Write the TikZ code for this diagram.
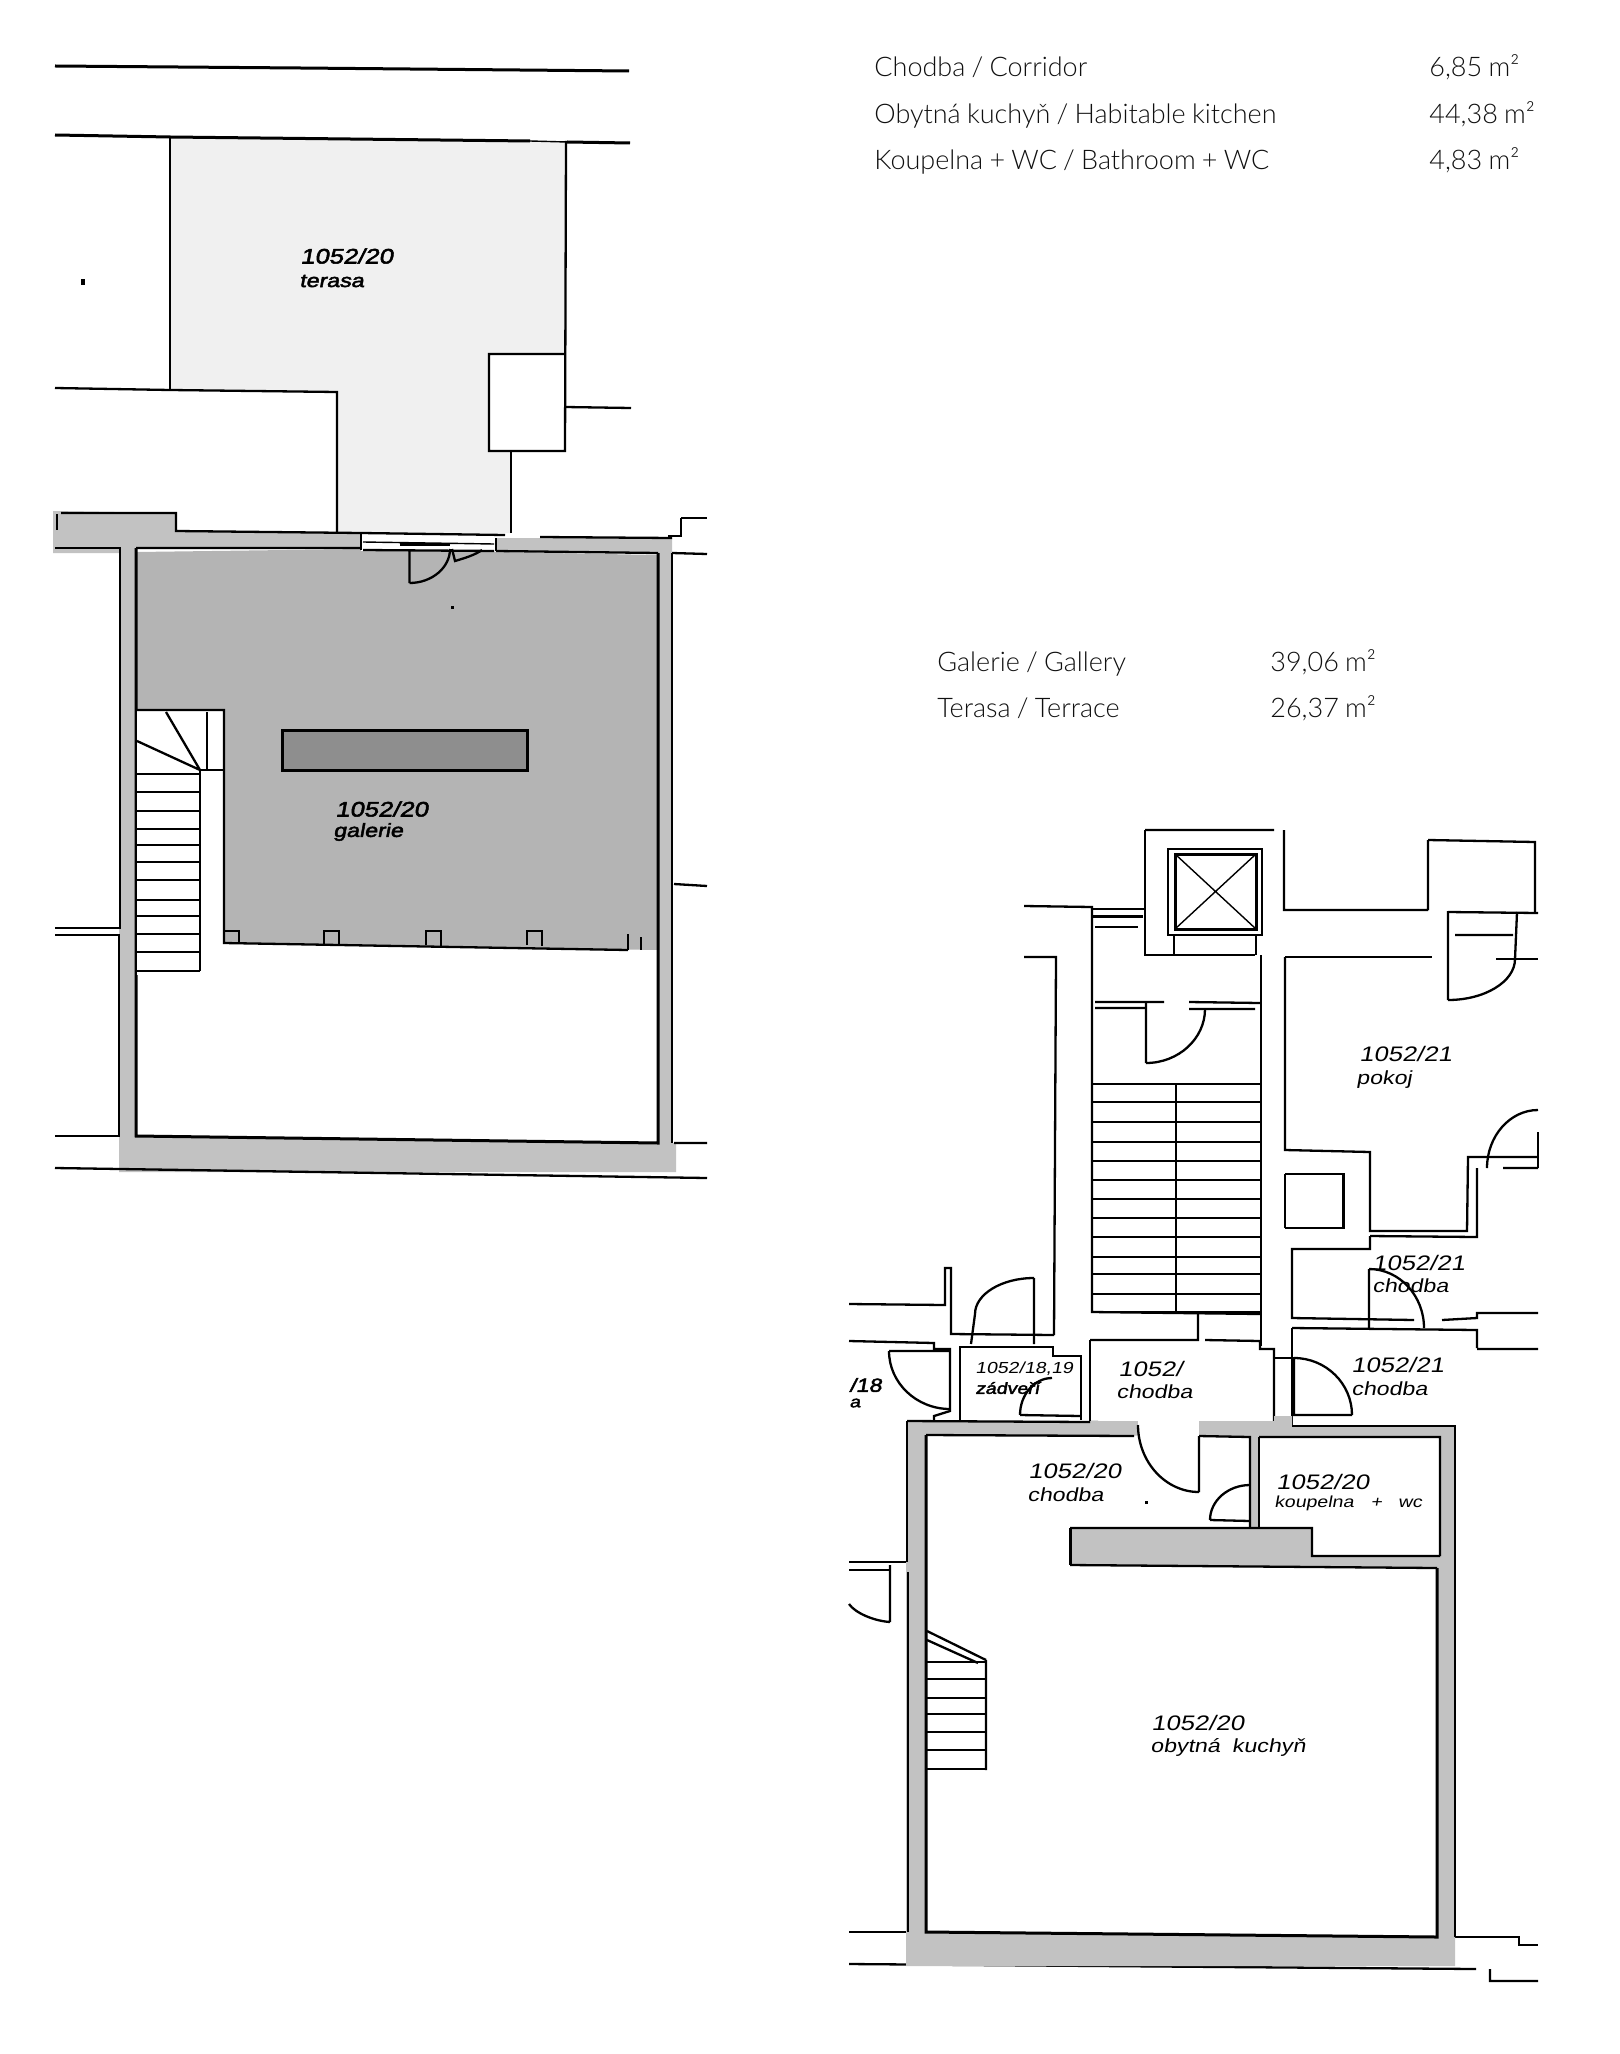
\documentclass[tikz,border=0pt]{standalone}
\usepackage{fontspec}
\usepackage{xcolor}
\usepackage{tikz}
\usetikzlibrary{calc}
\setmainfont[WordSpace=.85]{Lato Light}
\newfontfamily\planfont[FakeStretch=1.22,FakeSlant=0.18]{Liberation Sans}
\newfontfamily\planbold[FakeStretch=1.22,FakeSlant=0.18,FakeBold=2.5]{Liberation Sans}
\definecolor{wallgrey}{HTML}{C2C2C2}
\definecolor{galgrey}{HTML}{B4B4B4}
\definecolor{bargrey}{HTML}{8E8E8E}
\definecolor{terrgrey}{HTML}{F0F0F0}
\definecolor{tabletext}{HTML}{101010}
\newcommand\swing[3]{(#1) .. controls ($(#1)!.55!(#2)$) and ($(#3)!.55!(#2)$) .. (#3)}
\tikzstyle{line}=[line width=1.15pt,black]
\tikzstyle{hair}=[line width=.7pt,black]
\tikzstyle{heavy}=[line width=1.5pt,black]
\tikzstyle{area}=[inner sep=0pt,anchor=base west,text=tabletext,font=\fontsize{13.5}{15}\selectfont]
\tikzstyle{labnum}=[inner sep=0pt,anchor=west,font=\fontsize{10.5}{12}\planfont]
\tikzstyle{lab}=[inner sep=0pt,anchor=west,font=\fontsize{9.5}{11}\planfont]
\tikzstyle{labboldnum}=[labnum,font=\fontsize{10.5}{12}\planbold]
\tikzstyle{labbold}=[lab,font=\fontsize{9.5}{11}\planbold]
\tikzstyle{labsmall}=[inner sep=0pt,anchor=west,font=\fontsize{8}{10}\planfont]
\begin{document}
\begin{tikzpicture}[x=.5pt,y=-.5pt]
	\useasboundingbox (0,0) rectangle (1620,2054);
	% areas
	\node[area] (corridor) at (874,77) {Chodba / Corridor};
	\node[area] (kitchen) at (874,124) {Obytná kuchyň / Habitable kitchen};
	\node[area] (bathroom) at (874,170) {Koupelna + WC / Bathroom + WC};
	\node[area] (corridorm) at (1429,77) {6,85 m²};
	\node[area] (kitchenm) at (1429,124) {44,38 m²};
	\node[area] (bathroomm) at (1429,170) {4,83 m²};
	\node[area] (gallery) at (937,671) {Galerie / Gallery};
	\node[area] (terrace) at (937,717) {Terasa / Terrace};
	\node[area] (gallerym) at (1270,671) {39,06 m²};
	\node[area] (terracem) at (1270,717) {26,37 m²};
	% upper floor, fills
	\fill[terrgrey] (170,137) -- (566,141) -- (566,354) -- (489,354) -- (489,451) -- (511,451) -- (511,533) -- (337,533) -- (337,392) -- (170,390) -- cycle;
	\fill[wallgrey] (53,511) -- (176,513) -- (176,531) -- (361,533) -- (361,548) -- (136,548) -- (136,1136) -- (658,1143) -- (658,553) -- (496,551) -- (496,538) -- (672,538) -- (672,1143) -- (676,1143) -- (676,1172) -- (119,1172) -- (119,553) -- (53,553) -- cycle;
	\fill[galgrey] (137,552) -- (361,549) -- (496,552) -- (658,555) -- (658,950) -- (224,943) -- (224,710) -- (137,710) -- cycle;
	\fill[white] (361,534) rectangle (496,551);
	\fill[bargrey] (282,730) rectangle (527,770);
	\draw[heavy] (282,730) rectangle (527,770);
	% upper floor, terrace
	\draw[heavy] (55,66) -- (300,68) -- (629,71);
	\draw[heavy] (55,135) -- (170,137) -- (530,141) (567,142) -- (630,143);
	\draw[hair] (530,141) -- (567,142);
	\draw[line] (170,137) -- (170,390);
	\draw[line] (566,141) -- (565,451) -- (489,451) -- (489,354) -- (565,354);
	\draw[line] (565,407) -- (631,408);
	\draw[line] (55,388) -- (170,390) -- (337,392) -- (337,533);
	\draw[line] (511,451) -- (511,533);
	\fill[black] (81,279) rectangle (85,285);
	\node[labboldnum] (terasanum) at (300,256) {1052/20};
	\node[labbold] (terasaname) at (299,281) {terasa};
	% upper floor, walls
	\draw[line] (55,548) -- (120,548) -- (120,928) -- (55,928);
	\draw[line] (55,935) -- (119,935) -- (119,1136) -- (55,1136);
	\draw[heavy] (136,548) -- (136,1136) -- (658,1143) -- (658,553);
	\draw[line] (672,553) -- (672,1143);
	\draw[line] (61,513) -- (176,513) -- (176,531) -- (361,533) -- (505,535) (540,537) -- (672,538);
	\draw[line] (57,514) -- (57,530);
	\draw[line] (136,548) -- (361,548) (496,551) -- (658,553);
	\draw[line] (361,533) -- (361,550) (496,538) -- (496,551);
	\draw[line] (672,553) -- (707,554) (674,884) -- (707,886) (674,1143) -- (707,1143);
	\draw[line] (681,518) -- (707,518) (681,518) -- (681,536) -- (668,536);
	\draw[line] (55,1168) -- (707,1178);
	% upper floor, entrance
	\draw[hair] (363,542) -- (494,544);
	\draw[heavy] (400,544) -- (450,544);
	\draw[line] (363,550) -- (494,551);
	\draw[line] (409.5,549) -- (409.5,583) \swing{409.5,583}{450,583}{450,549};
	\draw[line] (452,549) -- (455,561) .. controls (465,558) and (475,555) .. (482,550);
	\fill[black] (451,606) rectangle (454,609);
	% upper floor, stairs
	\fill[white] (137,710) rectangle (224,943);
	\fill[white] (137,943) rectangle (200,975);
	\draw[line] (137,710) -- (224,710) -- (224,943) -- (628,950);
	\draw[line] (207,712) -- (207,770) (200,770) -- (224,770);
	\draw[line] (166,712) -- (200,770) (137,741) -- (200,770);
	\draw[line] (200,770) -- (200,971);
	\foreach \treadup in {774,792,811,829,845,862,880,900,916,934,952,971}
		\draw[line] (137,\treadup) -- (200,\treadup);
	\draw[line] (224,944) -- (224,931) -- (239,931) -- (239,944);
	\foreach \pierx in {324,426,527}
		\draw[line] (\pierx,945) -- (\pierx,931) -- ([xshift=7.5pt]\pierx,931) -- ([xshift=7.5pt]\pierx,946);
	\draw[line] (628,934) -- (628,950);
	\draw[hair] (641,937) -- (641,950);
	\node[labboldnum] (galerienum) at (335,809) {1052/20};
	\node[labbold] (galeriename) at (333,832) {galerie};
	% lower floor, lift
	\draw[line] (1024,906) -- (1092,907) -- (1092,1312) -- (1261,1314);
	\draw[line] (1145,830) -- (1274,830) (1284,830) -- (1284,910) -- (1428,910) (1428,840) -- (1535,842) -- (1535,912) (1428,840) -- (1428,910);
	\draw[line] (1145,830) -- (1145,955) -- (1255,955);
	\draw[line] (1168,849) rectangle (1262,935);
	\draw[heavy] (1175,854) rectangle (1256,929);
	\draw[hair] (1175,854) -- (1256,929) (1175,929) -- (1256,854);
	\draw[line] (1174,935) -- (1174,955) (1256,935) -- (1256,955);
	\draw[line] (1092,909) -- (1145,909) (1095,927) -- (1138,927);
	\draw[heavy] (1092,916) -- (1143,916);
	% lower floor, staircase
	\draw[line] (1024,957) -- (1056,957) -- (1054,1335);
	\draw[line] (1261,955) -- (1261,1346);
	\draw[line] (1285,957) -- (1285,1150) -- (1370,1152) -- (1370,1231) -- (1467,1231) -- (1468,1157) -- (1538,1157);
	\draw[line] (1285,957) -- (1432,957) (1496,959) -- (1538,959);
	\draw[line] (1095,1002) -- (1164,1002) (1095,1008) -- (1146,1008) (1189,1002) -- (1260,1003) (1189,1009) -- (1255,1009);
	\draw[line] (1146,1002) -- (1146,1063) \swing{1146,1063}{1205,1063}{1205,1009};
	\draw[line] (1176,1084) -- (1176,1312);
	\foreach \treaddown in {1084,1102,1122,1142,1161,1180,1199,1218,1237,1257,1274,1294,1312}
		\draw[line] (1092,\treaddown) -- (1261,\treaddown);
	\draw[line] (1198,1314) -- (1198,1341) (1090,1340) -- (1198,1340) (1205,1340) -- (1260,1341) -- (1260,1349) -- (1274,1349) -- (1274,1425);
	\draw[line] (1090,1340) -- (1090,1422);
	% lower floor, flat next door
	\draw[line] (1448,911) -- (1448,1000) \swing{1448,1000}{1515,1000}{1515,959} -- (1517,912);
	\draw[line] (1448,912) -- (1538,913) (1455,935) -- (1513,935);
	\draw[line] (1503,1168) -- (1538,1168) \swing{1487,1168}{1487,1110}{1538,1110};
	\draw[hair] (1538,1132) -- (1538,1168);
	\draw[line] (1477,1168) -- (1477,1237) -- (1370,1236);
	\draw[line] (1285,1174) -- (1343.5,1174) -- (1343.5,1228) -- (1285,1228);
	\draw[hair] (1285,1174) -- (1285,1228);
	\draw[line] (1370,1236) -- (1370,1249) -- (1292,1249) -- (1292,1318) -- (1414,1320) (1442,1320) -- (1477,1318) -- (1477,1313) -- (1538,1313);
	\draw[line] (1369,1269) -- (1369,1328) \swing{1369,1269}{1424,1269}{1424,1328};
	\draw[line] (1292,1328) -- (1477,1330) -- (1477,1348) (1477,1349) -- (1538,1349);
	\draw[line] (1292,1328) -- (1292,1425);
	\draw[line] (1294,1358) -- (1294,1415) -- (1352,1415) \swing{1294,1358}{1352,1358}{1352,1415};
	\draw[hair] (1274,1358) -- (1294,1358);
	\node[labnum] (pokojnum) at (1359,1054) {1052/21};
	\node[lab] (pokojname) at (1356,1080) {pokoj};
	\node[labnum] (chodbaanum) at (1372,1263) {1052/21};
	\node[lab] (chodbaaname) at (1372,1286) {chodba};
	\node[labnum] (chodbabnum) at (1351,1365) {1052/21};
	\node[lab] (chodbabname) at (1351,1389) {chodba};
	% lower floor, entrance rooms
	\draw[line] (849,1304) -- (945,1305) -- (945,1268) -- (951,1268) -- (951,1334) -- (1054,1335);
	\draw[line] (1034,1278) -- (1034,1344) \swing{1034,1278}{975,1278}{975,1314} -- (971,1344);
	\draw[line] (849,1341) -- (934,1343) -- (934,1349) -- (950,1349) -- (950,1411) -- (934,1416) -- (934,1421);
	\draw[line] (889,1351) -- (950,1351) \swing{889,1351}{889,1409}{950,1409};
	\draw[line] (960,1420) -- (960,1347) -- (1053,1347) -- (1053,1356) -- (1081,1356) -- (1081,1420);
	\draw[line] (1020,1415) -- (1081,1416) \swing{1020,1415}{1020,1378}{1052,1378};
	\draw[line] (1090,1422) -- (1274,1425);
	\node[labsmall] (zadverinum) at (975,1369) {1052/18,19};
	\node[labsmall] (zadveriname) at (975,1388) {\planbold zádveří};
	\node[labnum] (chodbacnum) at (1118,1369) {1052/};
	\node[lab] (chodbacname) at (1116,1392) {chodba};
	\node[labbold] (prevnum) at (849,1385) {/18};
	\node[labsmall] (prevname) at (849,1403) {\planbold a};
	\draw[line] (849,1562) -- (906,1562) (849,1570) -- (890,1570);
	\draw[line] (890,1565) -- (890,1622) \swing{890,1622}{860,1620}{849,1604};
	\draw[line] (849,1932) -- (906,1932);
	\draw[line] (849,1964) -- (1476,1969) (1490,1969) -- (1490,1981) -- (1538,1981);
	\draw[line] (1455,1937) -- (1519,1937) -- (1519,1945) -- (1538,1945);
	% lower floor, our flat
	\fill[wallgrey,even odd rule] (906,1421) -- (1274,1421) -- (1274,1416) -- (1292,1416) -- (1292,1426) -- (1455,1426) -- (1455,1966) -- (906,1966) -- cycle
		(926,1435) -- (1250,1436) -- (1250,1528) -- (1070,1528) -- (1070,1565) -- (1437,1568) -- (1437,1937) -- (926,1932) -- cycle
		(1259,1436) -- (1440,1437) -- (1440,1556) -- (1312,1556) -- (1312,1528) -- (1259,1528) -- cycle;
	\fill[white] (1138,1421) rectangle (1199,1438);
	\draw[line] (907,1421) -- (1090,1422);
	\draw[line] (907,1421) -- (907,1562) (908,1572) -- (908,1932);
	\draw[heavy] (926,1435) -- (926,1932) -- (1437,1937) -- (1437,1568);
	\draw[line] (926,1435) -- (1134,1436) (1199,1436) -- (1250,1437) -- (1250,1528) (1259,1437) -- (1440,1437) -- (1440,1556);
	\draw[line] (1259,1437) -- (1259,1528);
	\draw[line] (1292,1426) -- (1455,1426) -- (1455,1937);
	\draw[line] (1070,1528) -- (1312,1528) -- (1312,1556) -- (1440,1556) (1070,1565) -- (1437,1568);
	\draw[heavy] (1070,1528) -- (1070,1565);
	\draw[line] (1199,1492) -- (1199,1436) \swing{1138,1425}{1138,1492}{1199,1492};
	\draw[line] (1210,1520) -- (1250,1521) \swing{1250,1485}{1210,1485}{1210,1520};
	\fill[black] (1145,1501) rectangle (1148,1504);
	\foreach \stepy in {1662,1679,1698,1714,1732,1750,1769}
		\draw[line] (926,\stepy) -- (986,\stepy);
	\draw[line] (927,1631) -- (986,1660) (927,1640) -- (978,1663) (986,1660) -- (986,1770);
	\node[labnum] (chodbanum) at (1028,1471) {1052/20};
	\node[lab] (chodbaname) at (1027,1495) {chodba};
	\node[labnum] (koupelnanum) at (1276,1482) {1052/20};
	\node[labsmall] (koupelnaname) at (1274,1503) {koupelna\hspace{8.5pt}+\hspace{8pt}wc};
	\node[labnum] (obytnanum) at (1151,1723) {1052/20};
	\node[lab] (obytnaname) at (1150,1747) {obytná\hspace{6pt}kuchyň};
\end{tikzpicture}
\end{document}
